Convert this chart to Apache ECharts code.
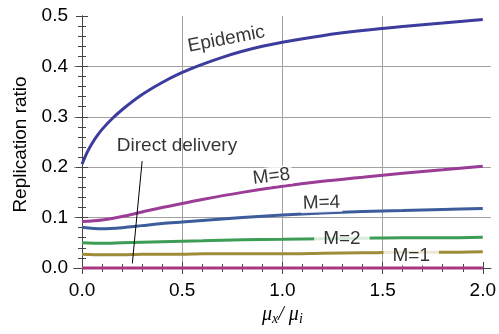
<!DOCTYPE html>
<html>
<head>
<meta charset="utf-8">
<script src="https://cdn.jsdelivr.net/npm/echarts@6/dist/echarts.min.js"></script>
<style>
  html, body { margin: 0; padding: 0; background: #fff; }
  #chart { width: 499px; height: 334px; }
</style>
</head>
<body>
<div id="chart"></div>
<script>
// data
var xEpi = [0, 0.025, 0.05, 0.075, 0.1, 0.15, 0.2, 0.3, 0.4, 0.5, 0.6, 0.7, 0.8, 0.9, 1.0, 1.2, 1.4, 1.6, 1.8, 2.0];
var epidemic = [0.206, 0.229, 0.247, 0.262, 0.275, 0.296, 0.314, 0.344, 0.368, 0.388, 0.404, 0.418, 0.430, 0.440, 0.448, 0.461, 0.471, 0.479, 0.486, 0.493];

var xM = [0, 0.1, 0.2, 0.3, 0.4, 0.5, 0.6, 0.8, 1.0, 1.2, 1.4, 1.6, 1.8, 2.0];
var m8 = [0.092, 0.095, 0.102, 0.111, 0.120, 0.128, 0.136, 0.150, 0.162, 0.172, 0.180, 0.188, 0.195, 0.202];
var m4 = [0.081, 0.078, 0.080, 0.084, 0.088, 0.091, 0.094, 0.100, 0.105, 0.109, 0.112, 0.114, 0.116, 0.118];
var m2 = [0.050, 0.049, 0.050, 0.051, 0.052, 0.053, 0.054, 0.056, 0.057, 0.058, 0.059, 0.060, 0.060, 0.061];
var m1 = [0.027, 0.026, 0.026, 0.027, 0.027, 0.027, 0.028, 0.028, 0.028, 0.029, 0.030, 0.031, 0.031, 0.032];
var direct = [0, 0, 0, 0, 0, 0, 0, 0, 0, 0, 0, 0, 0, 0];

// leader line for "Direct delivery"
var leaderX = [0.30, 0.251];
var leaderY = [0.212, 0.009];

// curve labels
var labelText = ['Epidemic', 'Direct delivery', 'M=8', 'M=4', 'M=2', 'M=1'];
var labelX = [0.72, 0.474, 0.946, 1.195, 1.297, 1.643];
var labelY = [0.454, 0.242, 0.1815, 0.129, 0.058, 0.025];
var labelRot = [11, 0, 7, 2, 0, 0];

// axis ticks
var xMajor = [0, 0.5, 1.0, 1.5, 2.0];
var xMinor = [0, 0.1, 0.2, 0.3, 0.4, 0.6, 0.7, 0.8, 0.9, 1.1, 1.2, 1.3, 1.4, 1.6, 1.7, 1.8, 1.9, 2.0];
var xGrid = [0.5, 1.0, 1.5];
var yMajor = [0, 0.1, 0.2, 0.3, 0.4, 0.5];
var yMinor = [];
for (var k = 0; k <= 25; k++) yMinor.push(+(k * 0.02).toFixed(2));
var yGrid = [0.1, 0.2, 0.3, 0.4];

var FONT = 'Liberation Sans';
var frameColor = '#444';

function zip(xs, ys) {
    return xs.map(function (x, i) { return [x, ys[i]]; });
}

function xAx(pos, values, len, opts) {
    return Object.assign({
        type: 'value', position: pos, min: -0.04, max: 2.04,
        axisLine: { show: true, lineStyle: { color: frameColor, width: 1 } },
        axisTick: { show: true, inside: true, length: len, customValues: values, lineStyle: { color: frameColor } },
        axisLabel: { show: false, customValues: values },
        splitLine: { show: false }
    }, opts || {});
}
function yAx(pos, values, len, opts) {
    return Object.assign({
        type: 'value', position: pos, min: -0.01, max: 0.5,
        axisLine: { show: true, lineStyle: { color: frameColor, width: 1 } },
        axisTick: { show: true, inside: true, length: len, customValues: values, lineStyle: { color: frameColor } },
        axisLabel: { show: false, customValues: values },
        splitLine: { show: false }
    }, opts || {});
}

var xAxes = [
    xAx('bottom', xMajor, 6, {
        axisLabel: {
            show: true, customValues: xMajor, margin: 8,
            fontFamily: FONT, fontSize: 19, color: '#000',
            formatter: function (v) { return v.toFixed(1); }
        },
        name: '{m|\u03bc}{s|x}{m|/ \u03bc}{s|i}',
        nameLocation: 'middle', nameGap: 30,
        nameTextStyle: {
            rich: {
                m: { fontFamily: 'Liberation Serif', fontStyle: 'italic', fontSize: 20, color: '#000' },
                s: { fontFamily: 'Liberation Serif', fontStyle: 'italic', fontSize: 14, color: '#000', padding: [8, 0, 0, 0] }
            }
        }
    }),
    xAx('top', xMajor, 6),
    xAx('bottom', xMinor, 4, { axisLine: { show: false } }),
    xAx('top', xMinor, 4, { axisLine: { show: false } }),
    xAx('bottom', xGrid, 0, {
        axisLine: { show: false },
        axisTick: { show: false, customValues: xGrid },
        splitLine: { show: true, lineStyle: { color: '#a0a0a0', width: 1 } }
    })
];

var yAxes = [
    yAx('left', yMajor, 6, {
        axisLabel: {
            show: true, customValues: yMajor, margin: 6,
            fontFamily: FONT, fontSize: 19, color: '#000',
            formatter: function (v) { return v.toFixed(1); }
        },
        name: 'Replication ratio',
        nameLocation: 'middle', nameGap: 44,
        nameTextStyle: { fontFamily: FONT, fontSize: 19, color: '#000' }
    }),
    yAx('right', yMajor, 6),
    yAx('left', yMinor, 4, { axisLine: { show: false } }),
    yAx('right', yMinor, 4, { axisLine: { show: false } }),
    yAx('left', yGrid, 0, {
        axisLine: { show: false },
        axisTick: { show: false, customValues: yGrid },
        splitLine: { show: true, lineStyle: { color: '#a0a0a0', width: 1 } }
    })
];

function curve(name, xs, ys, color) {
    return {
        name: name, type: 'line', xAxisIndex: 0, yAxisIndex: 0,
        data: zip(xs, ys), smooth: 0.3,
        symbol: 'none', z: 3,
        lineStyle: { color: color, width: 3 }
    };
}

var labelData = labelText.map(function (t, i) {
    return {
        value: [labelX[i], labelY[i]],
        label: {
            formatter: t,
            rotate: labelRot[i],
            backgroundColor: i === 1 ? 'transparent' : '#fff',
            padding: i >= 4 ? [1, 9, 1, 9] : [0, 2, 0, 2]
        }
    };
});

var chart = echarts.init(document.getElementById('chart'));
chart.setOption({
    animation: false,
    backgroundColor: '#fff',
    grid: { left: 74, right: 7, top: 16, bottom: 61 },
    xAxis: xAxes,
    yAxis: yAxes,
    series: [
        curve('Direct delivery', xM, direct, '#a8377f'),
        curve('M=1', xM, m1, '#9e8c38'),
        curve('M=2', xM, m2, '#3e9d55'),
        curve('M=4', xM, m4, '#3d5c9c'),
        curve('M=8', xM, m8, '#9b3c96'),
        curve('Epidemic', xEpi, epidemic, '#3c3c9e'),
        {
            type: 'line', xAxisIndex: 0, yAxisIndex: 0, z: 4,
            data: zip(leaderX, leaderY), symbol: 'none',
            lineStyle: { color: '#000', width: 1 }
        },
        {
            type: 'scatter', xAxisIndex: 0, yAxisIndex: 0, z: 6,
            symbolSize: 0, data: labelData,
            label: {
                show: true, position: 'inside',
                fontFamily: FONT, fontSize: 19, color: '#000'
            }
        }
    ]
});
</script>
</body>
</html>
